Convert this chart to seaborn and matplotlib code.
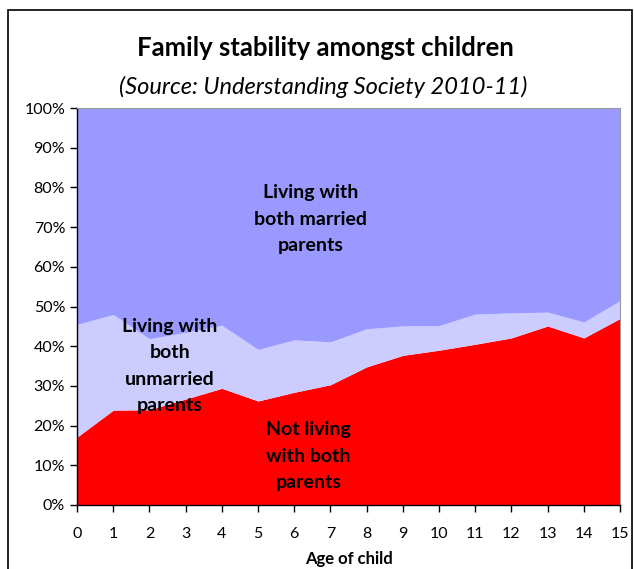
import numpy as np
import matplotlib.pyplot as plt
import seaborn as sns
from matplotlib.ticker import FuncFormatter

# dados (% de criancas por idade)
idade = list(range(16))
nao_ambos = [17.1, 23.9, 24.0, 26.7, 29.4, 26.2, 28.4, 30.3, 34.8, 37.7, 39.0, 40.5, 42.1, 45.1, 42.1, 47.0]
nao_casados = [28.4, 24.1, 17.9, 16.8, 15.9, 13.0, 13.2, 10.8, 9.6, 7.4, 6.2, 7.6, 6.3, 3.5, 4.0, 4.5]
casados = [54.5, 52.0, 58.1, 56.5, 54.7, 60.8, 58.4, 58.9, 55.6, 54.9, 54.8, 51.9, 51.6, 51.4, 53.9, 48.5]

cores = ["#FF0000", "#CCCCFF", "#9999FF"]

sns.set_style("ticks")
plt.rcParams['font.family'] = ['Lato', 'DejaVu Sans']
plt.rcParams['text.color'] = 'black'
plt.rcParams['xtick.color'] = 'black'
plt.rcParams['ytick.color'] = 'black'
plt.rcParams['axes.labelcolor'] = 'black'

fig = plt.figure(figsize=(6.34, 5.69), dpi=100)
ax = fig.add_axes([0.1215, 0.1125, 0.8565, 0.6975])

ax.stackplot(idade, nao_ambos, nao_casados, casados, colors=cores, linewidth=0)

ax.set_xlim(0, 15)
ax.set_ylim(0, 100)
ax.set_xticks(idade)
ax.set_yticks(np.arange(0, 101, 10))
ax.yaxis.set_major_formatter(FuncFormatter(lambda v, p: f"{v:.0f}%"))
ax.tick_params(axis='both', labelsize=11.5, length=5, width=1, direction='out')
ax.tick_params(axis='x', pad=11)
ax.set_xlabel("Age of child", fontsize=12, fontweight='bold', labelpad=7)

for lado in ['left', 'bottom']:
    ax.spines[lado].set_color('black')
    ax.spines[lado].set_linewidth(1)
for lado in ['top', 'right']:
    ax.spines[lado].set_color('#999999')
    ax.spines[lado].set_linewidth(0.8)

rotulo = dict(ha='center', va='center', fontsize=14, fontweight='bold', linespacing=1.68)
ax.text(6.45, 72.0, "Living with\nboth married\nparents", **rotulo)
ax.text(2.57, 35.0, "Living with\nboth\nunmarried\nparents", **rotulo)
ax.text(6.4, 12.3, "Not living\nwith both\nparents", **rotulo)

fig.text(0.513, 1 - 48 / 569, "Family stability amongst children", ha='center', va='center',
         fontsize=18.5, fontweight='bold')
fig.text(0.509, 1 - 87 / 569, "(Source: Understanding Society 2010-11)", ha='center', va='center',
         fontsize=17, fontstyle='italic')

# moldura do grafico
fig.patches.append(plt.Rectangle((8 / 634, -0.02), 624 / 634, 1 - 10 / 569 + 0.02, transform=fig.transFigure,
                                 fill=False, edgecolor='black', lw=1.2))

plt.savefig("out.png", dpi=100)
